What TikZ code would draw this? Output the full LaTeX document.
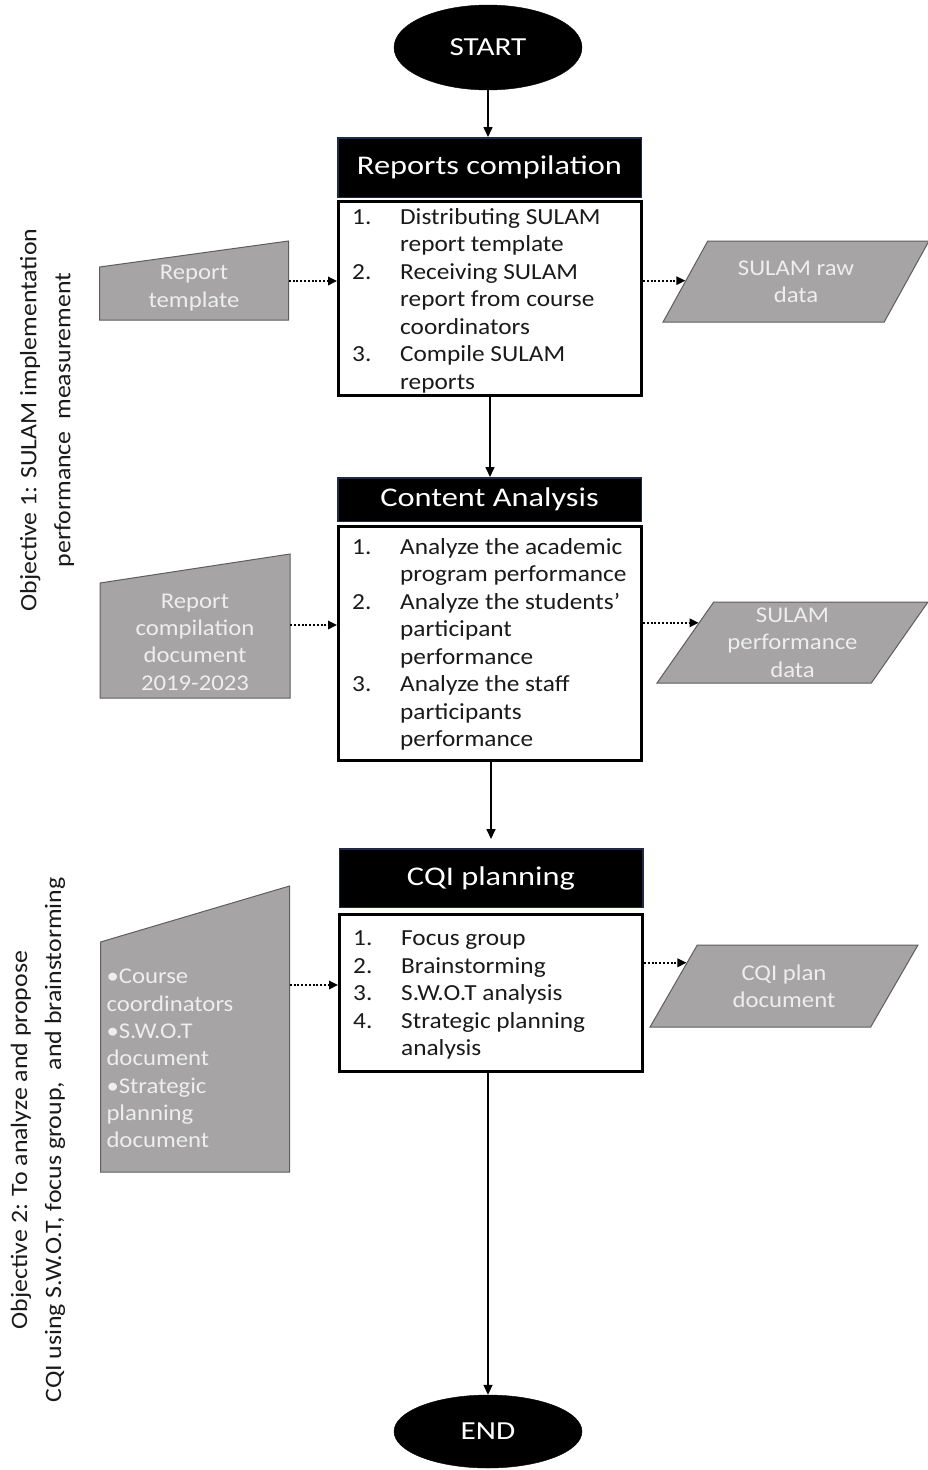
\documentclass[tikz,border=0pt]{standalone}
\usepackage{fontspec}
\setmainfont{Carlito}[FakeStretch=1.1]
\newfontfamily\wideface{Carlito}[FakeStretch=1.2]
\usetikzlibrary{shapes.geometric,arrows.meta,calc,backgrounds}

\definecolor{datagray}{HTML}{A6A4A5}
\definecolor{dataedge}{HTML}{5E5E5E}
\definecolor{datatext}{HTML}{EEEEEE}
\definecolor{titleedge}{HTML}{1F2A44}
\definecolor{inktext}{HTML}{1A1A1A}

% numbered step lines: number column, then hanging text
\newcommand\stepno[1]{\makebox[48pt][l]{#1}}
\newcommand\stepgap{\hspace*{48pt}}

\begin{document}
\begin{tikzpicture}[x=1pt,y=-1pt,
  terminal/.style={ellipse, fill=black, draw=black, text=white, minimum width=188pt,
    minimum height=#1, inner sep=0pt, font=\wideface\fontsize{26}{30}\selectfont},
  header/.style={rectangle, fill=black, draw=titleedge, line width=1.5pt, text=white,
    minimum width=303.5pt, font=\wideface\fontsize{27}{32}\selectfont},
  stepbody/.style={rectangle, draw=black, fill=white, line width=3pt, minimum width=303pt},
  steplist/.style={anchor=north west, inner sep=0pt, align=left, text=inktext,
    font=\fontsize{23}{27.5}\selectfont},
  datanote/.style={inner sep=0pt, align=center, text=datatext,
    font=\fontsize{22.5}{27.3}\selectfont},
  datafill/.style={fill=datagray, draw=dataedge, line width=1pt},
  outdata/.style={trapezium, trapezium stretches=true, fill=datagray, draw=dataedge,
    line width=1pt, text=datatext, align=center, inner sep=0pt,
    font=\fontsize{22.5}{27.3}\selectfont},
  objective/.style={rotate=90, align=center, text=inktext,
    font=\fontsize{23.5}{34}\selectfont},
  flow/.style={line width=1.6pt, -{Triangle[length=10pt,width=9pt]}},
  feed/.style={line width=1.8pt, dash pattern=on 2pt off 1.8pt,
    -{Triangle[length=9pt,width=8.5pt]}}
]
\useasboundingbox (0,0) rectangle (927,1470);

% terminals
\node[terminal=85pt] (start) at (488,47.5) {START};
\node[terminal=73pt] (end) at (488,1431.5) {END};

% stage 1
\node[header, minimum height=59.5pt] (h1) at (489.5,167.5) {Reports compilation};
\node[stepbody, minimum height=194pt] (b1) at (490,298.5) {};
\node[steplist] (l1) at (352,208) {\stepno{1.}Distributing SULAM\\
  \stepgap report template\\
  \stepno{2.}Receiving SULAM\\
  \stepgap report from course\\
  \stepgap coordinators\\
  \stepno{3.}Compile SULAM\\
  \stepgap reports};

% stage 2
\node[header, minimum height=43.5pt] (h2) at (489.5,499.5) {Content Analysis};
\node[stepbody, minimum height=234pt] (b2) at (490,643.5) {};
\node[steplist] (l2) at (352,538) {\stepno{1.}Analyze the academic\\
  \stepgap program performance\\
  \stepno{2.}Analyze the students’\\
  \stepgap participant\\
  \stepgap performance\\
  \stepno{3.}Analyze the staff\\
  \stepgap participants\\
  \stepgap performance};

% stage 3
\node[header, minimum height=58.5pt] (h3) at (491,878) {CQI planning};
\node[stepbody, minimum height=157pt] (b3) at (491,993) {};
\node[steplist] (l3) at (353,930.5) {\stepno{1.}Focus group\\
  \stepno{2.}Brainstorming\\
  \stepno{3.}S.W.O.T analysis\\
  \stepno{4.}Strategic planning\\
  \stepgap analysis};

% manual inputs (text nodes; outlines drawn on the background layer)
\node[datanote, minimum width=189pt] (in1) at (194,288) {Report\\template};
\node[datanote, minimum width=190pt] (in2) at (195,642) {Report\\compilation\\document\\2019-2023};
\node[datanote, text width=177pt, inner xsep=6pt, align=left] (in3) at (195,1058.5)
  {•Course\\coordinators\\•S.W.O.T\\document\\•Strategic\\planning\\document};

% data outputs
\node[outdata, trapezium left angle=55, trapezium right angle=125,
  minimum width=266pt, minimum height=81pt] (o1) at (796,281.5) {SULAM raw\\data};
\node[outdata, trapezium left angle=56, trapezium right angle=124,
  minimum width=271pt, minimum height=81pt] (o2) at (792.5,642.5) {SULAM\\performance\\data};
\node[outdata, trapezium left angle=57, trapezium right angle=123,
  minimum width=268pt, minimum height=82pt] (o3) at (784,986) {CQI plan\\document};

% objective captions
\node[objective] (obj1) at (47,420) {Objective 1: SULAM implementation\\performance\ \ measurement};
\node[objective] (obj2) at (38,1140) {Objective 2: To analyze and propose\\CQI using S.W.O.T, focus group,\ \ and brainstorming};

\begin{scope}[on background layer]
  \fill[white] (0,0) rectangle (927,1470);
  \draw[datafill] ($(in1)+(-94.5,32)$) -- ($(in1)+(94.5,32)$) -- ($(in1)+(94.5,-47)$)
    -- ($(in1)+(-94.5,-21)$) -- cycle;
  \draw[datafill] ($(in2)+(-95,56)$) -- ($(in2)+(95,56)$) -- ($(in2)+(95,-88)$)
    -- ($(in2)+(-95,-59)$) -- cycle;
  \draw[datafill] ($(in3)+(-94.5,113.5)$) -- ($(in3)+(94.5,113.5)$) -- ($(in3)+(94.5,-172.5)$)
    -- ($(in3)+(-94.5,-116.5)$) -- cycle;
\end{scope}

% main flow
\draw[flow] (start.south) -- (start.south |- h1.north);
\draw[flow] (b1.south) -- (b1.south |- h2.north);
\draw[flow, shorten >=9pt] (b2.south -| h3.north) -- (h3.north);
\draw[flow] (end.north |- b3.south) -- (end.north);

% inputs into the stages
\coordinate (f1) at ([yshift=7pt]in1.east);
\coordinate (f2) at ([yshift=17pt]in2.east);
\coordinate (f3) at ([yshift=73.5pt]in3.east);
\draw[feed] (f1) -- (f1 -| b1.west);
\draw[feed] (f2) -- (f2 -| b2.west);
\draw[feed] (f3) -- (f3 -| b3.west);

% stage outputs
\coordinate (t1) at ($(o1.top left corner)!0.49!(o1.bottom left corner)$);
\coordinate (t2) at ($(o2.top left corner)!0.26!(o2.bottom left corner)$);
\coordinate (t3) at ($(o3.top left corner)!0.22!(o3.bottom left corner)$);
\draw[feed] (t1 -| b1.east) -- (t1);
\draw[feed] (t2 -| b2.east) -- (t2);
\draw[feed] (t3 -| b3.east) -- (t3);
\end{tikzpicture}
\end{document}
